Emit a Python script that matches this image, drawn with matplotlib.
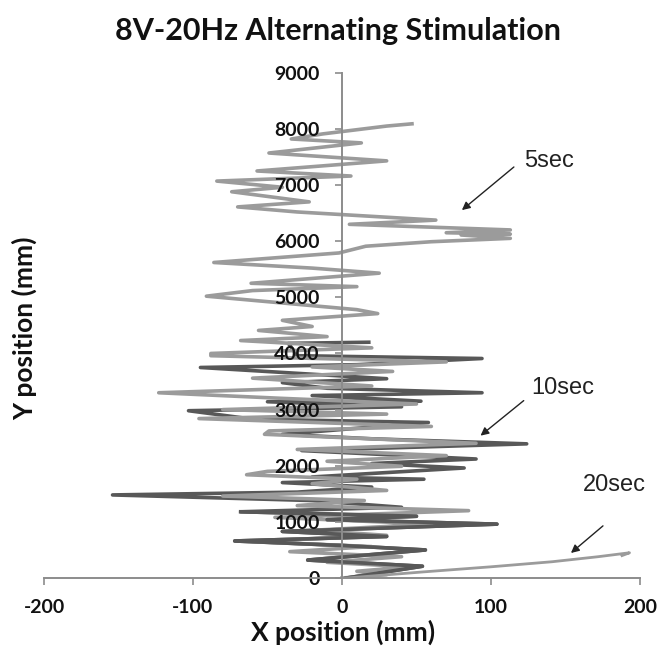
import matplotlib
matplotlib.use("Agg")
import matplotlib.pyplot as plt

plt.rcParams["axes.unicode_minus"] = False

# digitised trajectories (x mm, y mm)
x_5sec = [0, 30, 10, 45, -10, 40, -35, 20, -60, 30, -20, 60, -45, 85, -30, 15, -80, 30,
          -20, 10, -64, -50, 40, -10, 70, -30, 90, -52, -49, 60, -96, 30, -80, 50, -40,
          -123, 20, -60, 34, -20, 70, -88, -88, 20, -68, -10, -56, -20, -40, 24, 10, -91,
          -60, 10, -61, 25, -20, -86, -2, 16, 60, 113, 80, 113, 70, 113, 5, 63, -30, -70,
          -22, -74, -40, -84, 6, -57, 30, -49, 13, -34, -13, 30, 47]
y_5sec = [0, 60, 120, 200, 280, 380, 470, 560, 650, 760, 850, 960, 1080, 1200, 1290, 1380,
          1460, 1560, 1680, 1760, 1840, 1900, 1990, 2080, 2180, 2290, 2400, 2560, 2620, 2700,
          2840, 2920, 3000, 3100, 3200, 3300, 3420, 3560, 3680, 3760, 3850, 3960, 4000, 4100,
          4230, 4300, 4410, 4480, 4590, 4710, 4780, 5020, 5120, 5190, 5250, 5430, 5520, 5620,
          5790, 5910, 5990, 6050, 6110, 6125, 6150, 6200, 6300, 6375, 6520, 6610, 6700, 6880,
          6960, 7070, 7160, 7250, 7430, 7570, 7750, 7820, 7910, 8050, 8090]

x_10sec = [3, 54, -23, 56, 0, -72, 30, -40, 104, -10, 50, -68, 40, -20, -154, -30, 20, -40,
           55, -20, 82, 20, 90, -27, 124, 20, -40, 58, -60, -103, 40, -50, 53, -20, 94, -10,
           -40, 30, -95, 10, 94, -30, -36, 18]
y_10sec = [0, 210, 320, 500, 580, 660, 740, 830, 960, 1040, 1100, 1180, 1260, 1380, 1480,
           1530, 1620, 1700, 1760, 1800, 1960, 2040, 2120, 2270, 2390, 2480, 2560, 2770, 2830,
           2980, 3050, 3140, 3150, 3250, 3300, 3380, 3480, 3550, 3750, 3800, 3910, 3960, 4180,
           4200]

x_20sec = [3, 55, 100, 141, 172, 193, 188]
y_20sec = [0, 110, 200, 290, 380, 450, 400]

x_ticks = [-200, -100, 0, 100, 200]
y_ticks = [0, 1000, 2000, 3000, 4000, 5000, 6000, 7000, 8000, 9000]

light = "#9b9b9b"
dark = "#585858"
axis_col = "#8c8c8c"
bold_font = "Lato"

fig = plt.figure(figsize=(6.57, 6.47), dpi=100)
ax = fig.add_axes([0.067, 0.1066, 0.907, 0.781])

ax.plot(x_10sec, y_10sec, color=dark, lw=2.6, zorder=1)
ax.plot(x_5sec, y_5sec, color=light, lw=2.6, zorder=1)
ax.plot(x_10sec[:12], y_10sec[:12], color=dark, lw=2.6, zorder=1)
ax.plot(x_20sec, y_20sec, color=light, lw=2.0, zorder=1)

ax.set_xlim(-200, 200)
ax.set_ylim(0, 9000)
ax.spines["left"].set_position(("data", 0))
ax.spines["bottom"].set_position(("data", 0))
ax.spines["top"].set_visible(False)
ax.spines["right"].set_visible(False)
for s in ("left", "bottom"):
    ax.spines[s].set_color(axis_col)
    ax.spines[s].set_linewidth(1.4)

ax.set_xticks(x_ticks)
ax.set_yticks(y_ticks)
ax.tick_params(axis="both", colors=axis_col, length=5, width=1.2, direction="out")
ax.tick_params(axis="y", pad=11)
ax.tick_params(axis="x", pad=10)
for lab in ax.get_xticklabels() + ax.get_yticklabels():
    lab.set_fontfamily(bold_font)
    lab.set_fontweight("bold")
    lab.set_fontsize(14)
    lab.set_color("#111111")

fig.text(0.515, 0.952, "8V-20Hz Alternating Stimulation", ha="center", va="center",
         fontsize=22, fontweight="bold", family=bold_font, color="#111111")
fig.text(0.522, 0.023, "X position (mm)", ha="center", va="center",
         fontsize=19, fontweight="bold", family=bold_font, color="#111111")
fig.text(0.038, 0.492, "Y position (mm)", ha="center", va="center", rotation=90,
         fontsize=19, fontweight="bold", family=bold_font, color="#111111")

arrow = dict(arrowstyle="-|>", color="#222222", lw=1.0, mutation_scale=12,
             shrinkA=0, shrinkB=0)
ax.annotate("", xy=(80.5, 6553), xytext=(115.4, 7321), arrowprops=arrow)
ax.text(139, 7430, "5sec", ha="center", va="center", fontsize=17,
        family="Liberation Sans", color="#222222")
ax.annotate("", xy=(93, 2536), xytext=(122, 3160), arrowprops=arrow)
ax.text(148, 3393, "10sec", ha="center", va="center", fontsize=17,
        family="Liberation Sans", color="#222222")
ax.annotate("", xy=(153.7, 446), xytext=(175.2, 929), arrowprops=arrow)
ax.text(183, 1660, "20sec", ha="center", va="center", fontsize=17,
        family="Liberation Sans", color="#222222")

fig.savefig("out.png", dpi=100)
